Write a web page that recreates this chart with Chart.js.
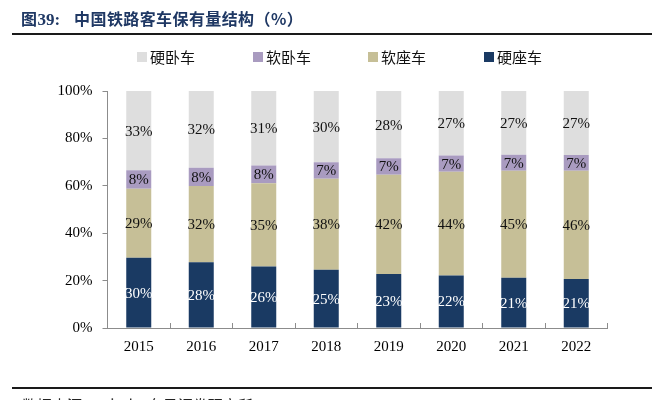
<!DOCTYPE html>
<html>
<head>
<meta charset="utf-8">
<script src="https://cdn.jsdelivr.net/npm/chart.js@4.4.1/dist/chart.umd.min.js"></script>
<style>
  html, body { margin: 0; padding: 0; background: #fff; }
  #wrap { position: relative; width: 668px; height: 400px; overflow: hidden; }
  #chartBox { position: absolute; left: 0; top: 0; width: 668px; height: 400px; }
  #title { position: absolute; left: 21px; top: 8px; font-family: "Noto Sans CJK SC", sans-serif; font-weight: bold; font-size: 16px; color: #1f3864; white-space: nowrap; line-height: 20px; letter-spacing: 0.4px; }
  #title .num { font-family: "Liberation Serif", serif; font-size: 17px; margin-right: 14px; letter-spacing: 0; }
  .rule { position: absolute; left: 12px; width: 640px; height: 2px; background: #1a1a1a; }
  #source { position: absolute; left: 22px; top: 395px; font-family: "Noto Sans CJK SC", sans-serif; font-size: 15px; color: #222; white-space: nowrap; line-height: 20px; }
  #legend { position: absolute; top: 47px; left: 0; width: 668px; height: 20px; }
  .lg { position: absolute; top: 0; height: 20px; font-family: "Noto Sans CJK SC", sans-serif; font-size: 15px; line-height: 20px; color: #111; white-space: nowrap; }
  .lg i { position: absolute; left: 0; top: 5px; width: 10px; height: 10px; }
  .lg span { position: absolute; left: 13px; top: 0; }
</style>
</head>
<body>
<div id="wrap">
  <div id="chartBox"><canvas id="c"></canvas></div>
  <div id="title">图<span class="num">39:</span>中国铁路客车保有量结构（%）</div>
  <div class="rule" style="top:33px"></div>
  <div id="legend"></div>
  <div class="rule" style="top:387px"></div>
  <div id="source">数据来源：Wind，东吴证券研究所</div>
</div>
<script>
// ---- data ----
const categories = ['2015', '2016', '2017', '2018', '2019', '2020', '2021', '2022'];
const hardSeat    = [29.6, 27.7, 26.0, 24.6, 22.8, 22.1, 21.2, 20.7]; // 硬座车
const softSeat    = [29.2, 32.2, 35.1, 38.4, 41.9, 43.8, 45.2, 45.7]; // 软座车
const softSleeper = [7.8, 7.7, 7.5, 6.9, 6.9, 6.9, 6.7, 6.6];         // 软卧车
const hardSleeper = [33.4, 32.4, 31.4, 30.1, 28.4, 27.2, 26.9, 27.0]; // 硬卧车
const yTickValues = [0, 20, 40, 60, 80, 100];

const seriesNames = ['硬座车', '软座车', '软卧车', '硬卧车'];
const seriesColors = ['#1a3a63', '#c6bf97', '#a99bc0', '#dedede'];
const labelColors = ['#ffffff', '#111111', '#111111', '#111111'];
const seriesData = [hardSeat, softSeat, softSleeper, hardSleeper];

// ---- HTML legend (reverse order like reference) ----
const legendX = [137, 253, 368, 484];
const legendEl = document.getElementById('legend');
[3, 2, 1, 0].forEach((si, k) => {
  const d = document.createElement('div');
  d.className = 'lg';
  d.style.left = legendX[k] + 'px';
  d.innerHTML = '<i style="background:' + seriesColors[si] + '"></i><span>' + seriesNames[si] + '</span>';
  legendEl.appendChild(d);
});

// ---- data label plugin ----
const segLabels = {
  id: 'segLabels',
  afterDatasetsDraw(chart) {
    const ctx = chart.ctx;
    ctx.save();
    ctx.font = '15px "Liberation Serif", serif';
    ctx.textAlign = 'center';
    ctx.textBaseline = 'middle';
    chart.data.datasets.forEach((ds, i) => {
      const meta = chart.getDatasetMeta(i);
      ctx.fillStyle = labelColors[i];
      meta.data.forEach((bar, j) => {
        const v = ds.data[j];
        const y = (bar.y + bar.base) / 2;
        ctx.fillText(Math.round(v) + '%', bar.x, y + 1);
      });
    });
    ctx.restore();
  }
};

new Chart(document.getElementById('c'), {
  type: 'bar',
  data: {
    labels: categories,
    datasets: seriesData.map((d, i) => ({
      label: seriesNames[i],
      data: d,
      backgroundColor: seriesColors[i],
      borderWidth: 0,
      categoryPercentage: 1,
      barPercentage: 0.4
    }))
  },
  options: {
    responsive: true,
    maintainAspectRatio: false,
    animation: false,
    layout: { padding: { top: 91, right: 60.5, bottom: 42, left: 0 } },
    plugins: {
      legend: { display: false },
      tooltip: { enabled: false },
      title: { display: false }
    },
    scales: {
      x: {
        stacked: true,
        grid: { display: true, drawOnChartArea: false, drawTicks: true, tickLength: -5, color: '#8c8c8c', offset: true },
        border: { display: true, color: '#8c8c8c', width: 1 },
        ticks: { color: '#000', font: { family: '"Liberation Serif", serif', size: 15 }, padding: 15, maxRotation: 0 },
        afterFit(s) { s.height = 30; }
      },
      y: {
        stacked: true,
        min: 0,
        max: 100,
        afterBuildTicks(s) { s.ticks = yTickValues.map(v => ({ value: v })); },
        grid: { display: true, drawOnChartArea: false, drawTicks: true, tickLength: 5, color: '#8c8c8c' },
        border: { display: true, color: '#8c8c8c', width: 1 },
        ticks: { color: '#000', font: { family: '"Liberation Serif", serif', size: 15 }, padding: 10, callback: v => v + '%' },
        afterFit(s) { s.width = 107.5; }
      }
    }
  },
  plugins: [segLabels]
});
</script>
</body>
</html>
